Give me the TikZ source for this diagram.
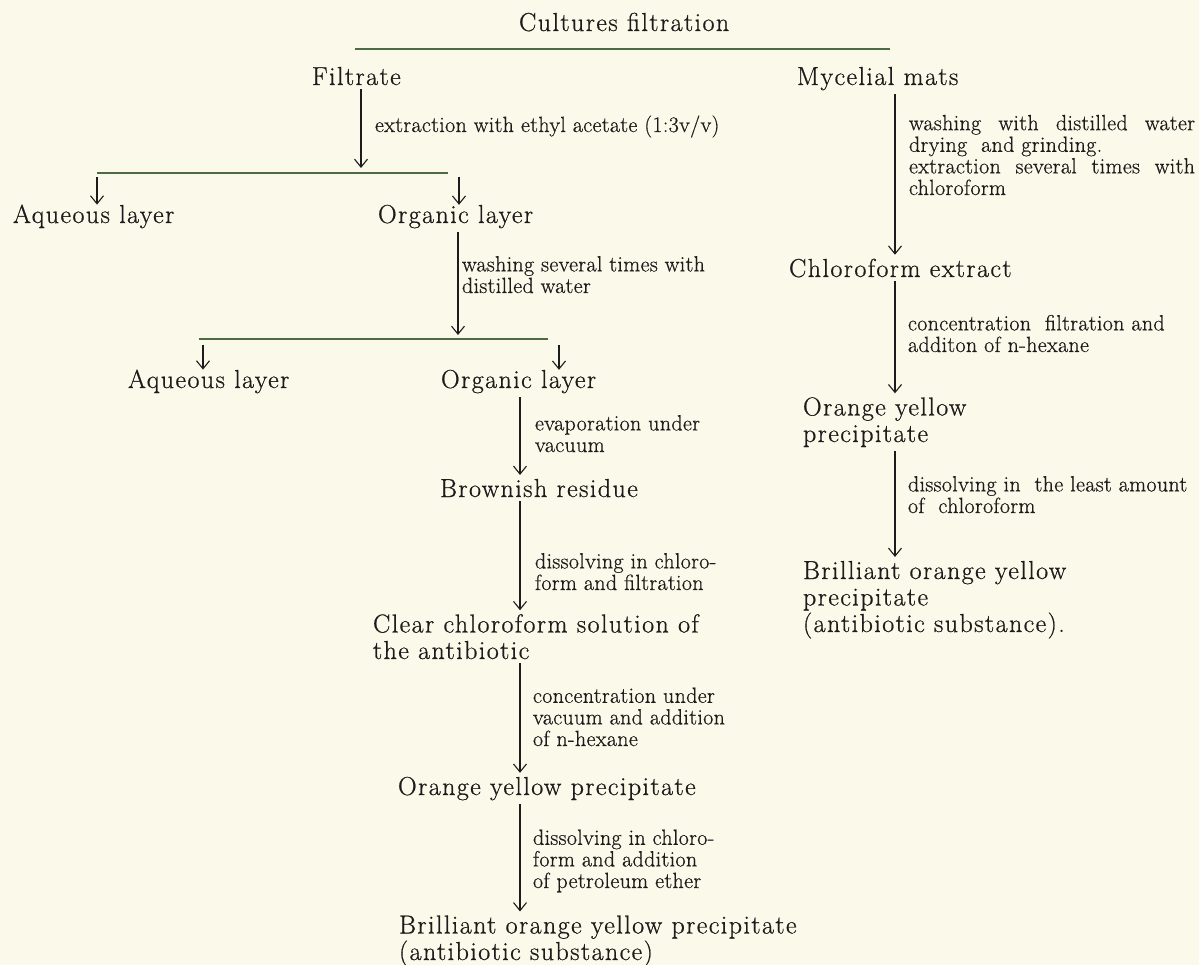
\documentclass[tikz,border=0pt]{standalone}
\usepackage{fontspec}
\usepackage{tikz}
\usetikzlibrary{arrows.meta,positioning,calc}
\newfontfamily\stagefont{Latin Modern Roman}[LetterSpace=5.5,FakeBold=0.7]
\newfontfamily\notefont{Latin Modern Roman}[LetterSpace=1.5,FakeBold=0.6]
\definecolor{paper}{HTML}{FBFAEA}
\definecolor{ink}{HTML}{1C1C1C}
\definecolor{ruleline}{HTML}{4C6B44}

\begin{document}
\begin{tikzpicture}[
 x=1pt,y=-1pt,
 stage/.style={anchor=base west,inner sep=0pt,outer sep=0pt,align=left,text=ink,
   font=\stagefont\fontsize{26}{26.5}\selectfont},
 note/.style={anchor=base west,inner sep=0pt,outer sep=0pt,align=left,text=ink,
   font=\notefont\fontsize{22}{21.6}\selectfont},
 flow/.style={-{Straight Barb[length=8pt,width=13pt]},line width=1.1pt,draw=ink,
   shorten <=4pt,shorten >=4pt},
 drop/.style={-{Straight Barb[length=8pt,width=13pt]},line width=1.1pt,draw=ink},
 split/.style={line width=1.3pt,draw=ruleline}]
\fill[paper] (0,0) rectangle (1199,965);
\useasboundingbox (0,0) rectangle (1199,965);
% top
\node[stage] (cult) at (519,31) {Cultures filtration};
\draw[split] (355,49) coordinate (t0) -- (890,49) coordinate (t1);
\node[stage] (filt) at (312,85) {Filtrate};
\node[stage] (myc) at (797,85) {Mycelial mats};
% filtrate branch
\coordinate (colA) at (361,0);
\coordinate (colB) at (458,0);
\coordinate (colC) at (520,0);
\coordinate (colR) at (895,0);
\coordinate (sp1) at (361,168);
\draw[split] (97,173) coordinate (sp1a) -- (448,173) coordinate (sp1b);
\draw[flow,shorten >=0pt] (filt.south -| colA) -- (sp1);
\node[note] (n1) at (375,132) {extraction with ethyl acetate (1:3v/v)};
\node[stage] (aq1) at (13,223) {Aqueous layer};
\node[stage] (org1) at (378,223) {Organic layer};
\coordinate (d1a) at (97,177);
\coordinate (d1b) at (459,177);
\draw[drop] (d1a) -- (aq1.north -| d1a);
\draw[drop] (d1b) -- (org1.north -| d1b);
\coordinate (sp2) at (458,335);
\draw[split] (199,339) coordinate (sp2a) -- (548,339) coordinate (sp2b);
\draw[flow,shorten >=0pt] (org1.south -| colB) -- (sp2);
\node[note] (n2) at (462,293) {washing several times with\\distilled water};
\node[stage] (aq2) at (128,388) {Aqueous layer};
\node[stage] (org2) at (441,388) {Organic layer};
\coordinate (d2a) at (203,345);
\coordinate (d2b) at (559,345);
\draw[drop] (d2a) -- (aq2.north -| d2a);
\draw[drop] (d2b) -- (org2.north -| d2b);
% organic layer down
\node[stage] (brown) at (440,497) {Brownish residue};
\node[note] (n3) at (535,452) {evaporation under\\vacuum};
\draw[flow] (org2.south -| colC) -- (brown.north -| colC);
\node[stage] (clear) at (373,659) {Clear chloroform solution of\\the antibiotic};
\node[note] (n4) at (535,590) {dissolving in chloro-\\form and filtration};
\draw[flow] (brown.south -| colC) -- (clear.north -| colC);
\node[stage] (ora1) at (398,795) {Orange yellow precipitate};
\node[note] (n5) at (533,746) {concentration under\\vacuum and addition\\of n-hexane};
\draw[flow] (clear.south -| colC) -- (ora1.north -| colC);
\node[stage] (bri1) at (399,960) {Brilliant orange yellow precipitate\\(antibiotic substance)};
\node[note] (n6) at (533,888) {dissolving in chloro-\\form and addition\\of petroleum ether};
\draw[flow] (ora1.south -| colC) -- (bri1.north -| colC);
% mycelial branch
\node[stage] (chl) at (789,277) {Chloroform extract};
\node[note] (n7) at (909,195) {\makebox[286pt][s]{washing with distilled water}\\
  drying\ \ and grinding.\\\makebox[286pt][s]{extraction several times with}\\chloroform};
\draw[flow] (myc.south -| colR) -- (chl.north -| colR);
\node[stage] (ora2) at (803,442) {Orange yellow\\precipitate};
\node[note] (n8) at (908,352) {concentration\ \ filtration and\\additon of n-hexane};
\draw[flow] (chl.south -| colR) -- (ora2.north -| colR);
\node[stage] (bri2) at (803,632) {Brilliant orange yellow\\precipitate\\(antibiotic substance).};
\node[note] (n9) at (908,513) {dissolving in\ \ the least amount\\of\ \ chloroform};
\draw[flow] (ora2.south -| colR) -- (bri2.north -| colR);
\end{tikzpicture}
\end{document}
